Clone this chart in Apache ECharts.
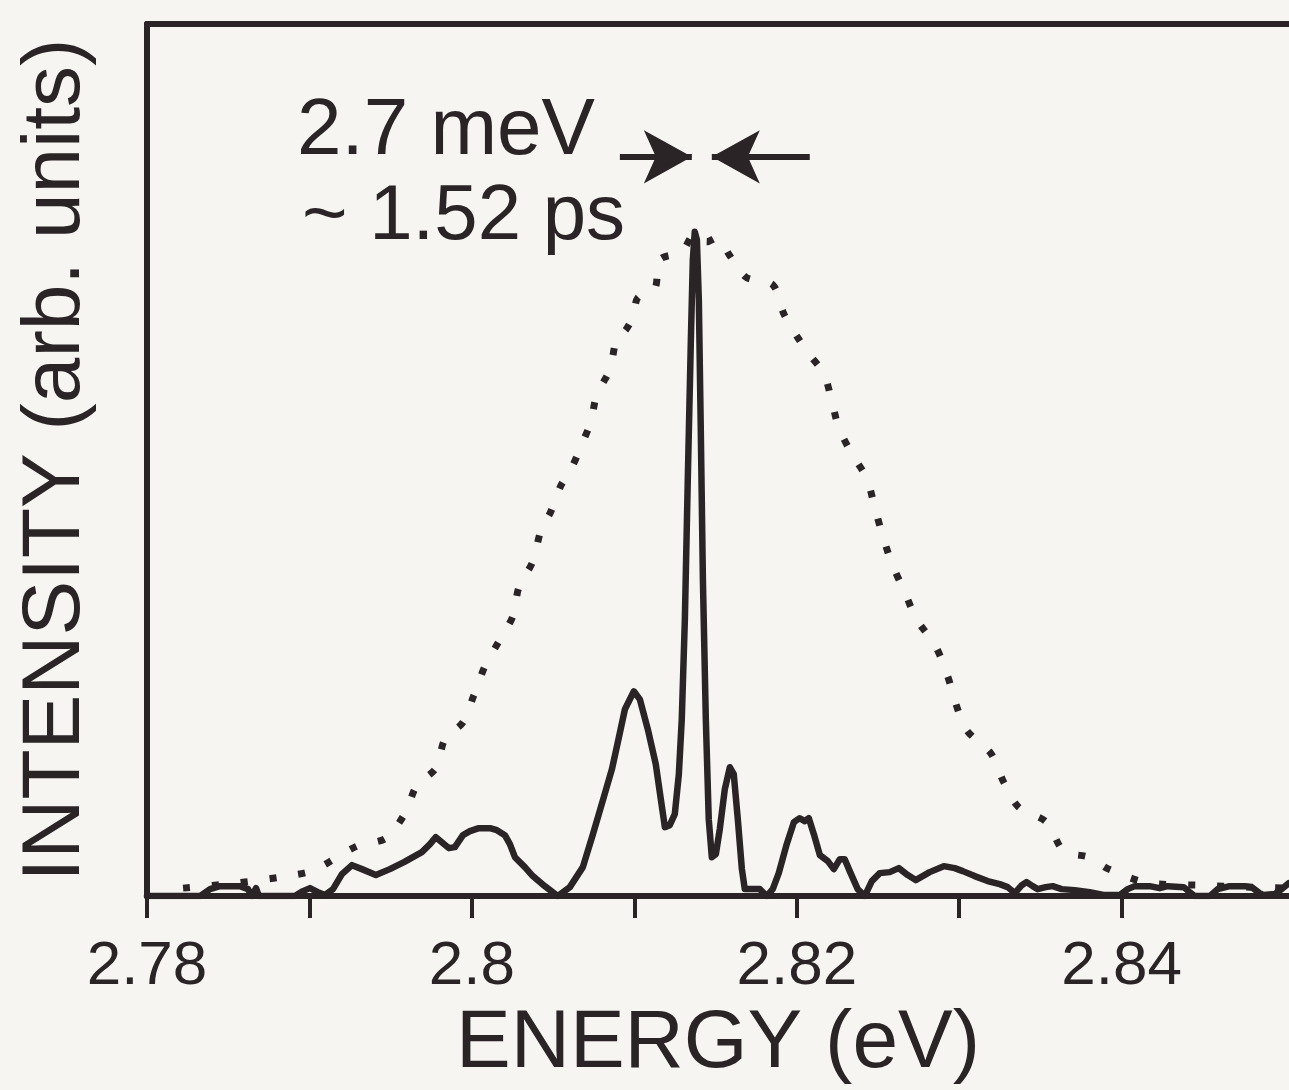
<!DOCTYPE html>
<html>
<head>
<meta charset="utf-8">
<script src="https://cdn.jsdelivr.net/npm/echarts@6/dist/echarts.min.js"></script>
<style>
html,body{margin:0;padding:0;background:#f6f5f2;}
#chart{width:1289px;height:1090px;}
</style>
</head>
<body>
<div id="chart"></div>
<script>
// ---- data ----
// measured spectrum (solid line): energy (eV), intensity (arb. units, peak = 1)
const solidEnergy = [2.78000,2.78326,2.78388,2.78449,2.78572,2.78622,2.78646,2.78671,2.78689,2.78911,2.78960,2.79003,2.79052,2.79095,2.79145,2.79200,2.79262,2.79323,2.79409,2.79495,2.79582,2.79692,2.79742,2.79778,2.79815,2.79858,2.79895,2.79945,2.79988,2.80043,2.80111,2.80154,2.80203,2.80234,2.80265,2.80326,2.80375,2.80449,2.80529,2.80603,2.80683,2.80745,2.80812,2.80862,2.80905,2.80942,2.80997,2.81034,2.81083,2.81132,2.81163,2.81188,2.81218,2.81249,2.81274,2.81292,2.81311,2.81329,2.81348,2.81360,2.81372,2.81385,2.81397,2.81409,2.81422,2.81440,2.81458,2.81477,2.81502,2.81526,2.81557,2.81588,2.81612,2.81637,2.81662,2.81680,2.81723,2.81772,2.81815,2.81852,2.81889,2.81938,2.81982,2.82018,2.82049,2.82074,2.82105,2.82142,2.82191,2.82228,2.82265,2.82295,2.82326,2.82375,2.82418,2.82462,2.82511,2.82572,2.82628,2.82683,2.82732,2.82818,2.82905,2.82972,2.83022,2.83095,2.83175,2.83249,2.83298,2.83342,2.83385,2.83415,2.83452,2.83483,2.83532,2.83575,2.83631,2.83711,2.83803,2.83895,2.83988,2.84037,2.84080,2.84172,2.84234,2.84283,2.84382,2.84418,2.84449,2.84542,2.84591,2.84665,2.84757,2.84800,2.84849,2.84874,2.84942,2.84985,2.85028];
const solidIntensity = [0,0,0.0105,0.015,0.015,0.0105,0,0.012,0,0,0.0075,0.012,0.006,0.0015,0.0105,0.033,0.0466,0.0406,0.0316,0.0406,0.0511,0.0662,0.0782,0.0887,0.0812,0.0722,0.0737,0.0917,0.0977,0.1023,0.1023,0.0992,0.0917,0.0782,0.0586,0.0436,0.0301,0.015,0,0.0135,0.0436,0.0932,0.1489,0.191,0.2391,0.2812,0.3083,0.2962,0.2511,0.1985,0.1459,0.1038,0.1068,0.1233,0.1835,0.2662,0.4165,0.6271,0.8376,0.9579,1.0,0.988,0.8977,0.7023,0.4767,0.2662,0.1158,0.0586,0.0632,0.1008,0.1609,0.194,0.1835,0.1158,0.0406,0.0105,0.0105,0.0105,0,0.0105,0.0346,0.0782,0.1113,0.1173,0.1128,0.1173,0.0932,0.0617,0.0526,0.0406,0.0556,0.0556,0.0376,0.0105,0,0.0226,0.0346,0.0361,0.0421,0.0316,0.0241,0.0361,0.0451,0.0421,0.0376,0.0301,0.0226,0.018,0.0135,0.0045,0.0165,0.0211,0.015,0.0105,0.0135,0.015,0.0105,0.009,0.006,0.0015,0.0015,0.0105,0.015,0.015,0.012,0.015,0.0135,0.006,0,0,0.0105,0.015,0.015,0.0135,0.0045,0.0015,0.003,0.0105,0.0195];
// laser pulse spectrum (dotted line)
const dottedEnergy = [2.78222,2.78542,2.78862,2.79028,2.79292,2.79471,2.79588,2.79662,2.79778,2.79834,2.79945,2.80012,2.80080,2.80166,2.80252,2.80289,2.80375,2.80425,2.80486,2.80548,2.80609,2.80671,2.80732,2.80769,2.80849,2.80892,2.80948,2.80991,2.81022,2.81126,2.81157,2.81292,2.81372,2.81446,2.81508,2.81588,2.81625,2.81692,2.81852,2.81920,2.82006,2.82074,2.82166,2.82215,2.82258,2.82338,2.82431,2.82480,2.82523,2.82585,2.82665,2.82738,2.82855,2.82929,2.82978,2.83046,2.83194,2.83274,2.83366,2.83538,2.83643,2.83797,2.83920,2.84172,2.84468,2.84788,2.85028];
const dottedIntensity = [0.012,0.0195,0.0301,0.0391,0.0752,0.0872,0.1248,0.1669,0.1925,0.2361,0.2617,0.3023,0.3459,0.3835,0.4211,0.4647,0.5038,0.5504,0.5789,0.618,0.6421,0.6767,0.7143,0.7549,0.7925,0.8391,0.8526,0.8722,0.9008,0.9143,0.9579,0.9699,0.997,0.985,0.991,0.9639,0.9504,0.9308,0.9203,0.8767,0.8406,0.8165,0.7865,0.7459,0.7053,0.6662,0.6286,0.585,0.5474,0.5008,0.4571,0.4165,0.3759,0.3308,0.2902,0.2496,0.215,0.1714,0.1338,0.1113,0.0677,0.0586,0.0406,0.0195,0.0165,0.0135,0.012];
// axis ticks and labels
const tickValues = [2.78, 2.79, 2.80, 2.81, 2.82, 2.83, 2.84];
const labelValues = [2.78, 2.80, 2.82, 2.84];
// linewidth annotation: arrows (energy from -> tip) at a given intensity
const arrowLevel = 1.1128;
const leftArrow = [2.80911, 2.81354];
const rightArrow = [2.82080, 2.81477];
const annotationLines = ['2.7 meV', '~ 1.52 ps'];

const INK = '#2b2427';
const FONT = '"Liberation Sans", Arial, Helvetica, sans-serif';

const solidData = solidEnergy.map((e, i) => [e, solidIntensity[i]]);
const dottedData = dottedEnergy.map((e, i) => [e, dottedIntensity[i]]);

const chart = echarts.init(document.getElementById('chart'), null, {renderer: 'canvas'});
chart.setOption({
  animation: false,
  backgroundColor: '#f6f5f2',
  grid: {left: 147, right: 0, top: 24, bottom: 193, containLabel: false, show: false},
  xAxis: [{
    type: 'value', min: 2.78, max: 2.8503, position: 'bottom',
    axisLine: {show: true, onZero: false, lineStyle: {color: INK, width: 6}},
    axisTick: {show: true, customValues: tickValues, length: 22, lineStyle: {color: INK, width: 4}},
    axisLabel: {show: true, customValues: labelValues, margin: 40, fontSize: 62, color: INK, fontFamily: FONT,
      formatter: v => String(v)},
    splitLine: {show: false},
    name: 'ENERGY (eV)', nameLocation: 'middle', nameGap: 100,
    nameTextStyle: {fontSize: 82, color: INK, fontFamily: FONT}
  }, {
    type: 'value', min: 2.78, max: 2.8503, position: 'top',
    axisLine: {show: true, onZero: false, lineStyle: {color: INK, width: 6}},
    axisTick: {show: false}, axisLabel: {show: false}, splitLine: {show: false}
  }],
  yAxis: {
    type: 'value', min: 0, max: 1.3128,
    axisLine: {show: true, onZero: false, lineStyle: {color: INK, width: 6}},
    axisTick: {show: false}, axisLabel: {show: false}, splitLine: {show: false},
    name: 'INTENSITY (arb. units)', nameLocation: 'middle', nameGap: 50,
    nameTextStyle: {fontSize: 82, color: INK, fontFamily: FONT}
  },
  series: [{
    type: 'line', data: dottedData, showSymbol: false, smooth: 0.3, clip: true,
    lineStyle: {color: INK, width: 7, type: [7, 22], cap: 'butt'},
    z: 2
  }, {
    type: 'line', data: solidData, showSymbol: false, smooth: false, clip: true,
    lineStyle: {color: INK, width: 6.5, join: 'round', cap: 'round'},
    z: 3,
    markLine: {
      silent: true, symbol: ['none', 'arrow'],
      label: {show: false},
      lineStyle: {color: INK, width: 6, type: 'solid'},
      itemStyle: {color: INK},
      data: [
        [{coord: [leftArrow[0], arrowLevel]}, {coord: [leftArrow[1], arrowLevel], symbolSize: [40, 48]}],
        [{coord: [rightArrow[0], arrowLevel]}, {coord: [rightArrow[1], arrowLevel], symbolSize: [40, 48]}]
      ]
    }
  }],
  graphic: [{
    type: 'text', left: 297, top: 92,
    style: {text: annotationLines[0], font: '80px ' + FONT, fill: INK}
  }, {
    type: 'text', left: 302, top: 178,
    style: {text: annotationLines[1], font: '78px ' + FONT, fill: INK}
  }]
});
</script>
</body>
</html>
